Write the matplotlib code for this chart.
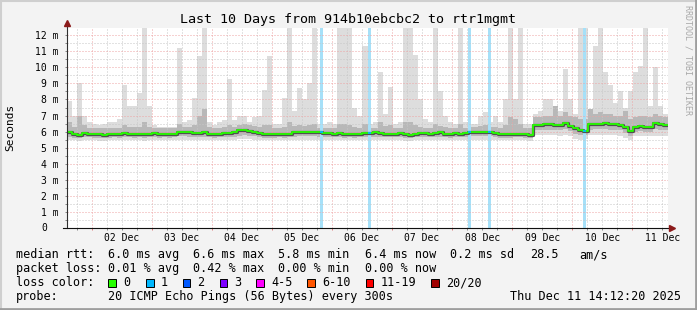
import numpy as np
import pandas as pd
import matplotlib
matplotlib.use("Agg")
import matplotlib.pyplot as plt
import matplotlib.dates as mdates
from matplotlib.ticker import FuncFormatter, MultipleLocator, NullFormatter
from matplotlib.patches import Rectangle
from matplotlib.lines import Line2D

plt.rcParams["font.family"] = "DejaVu Sans Mono"

W, H = 697, 310

# 10 days shown in 2 hour steps
start = "2025-12-01 14:12:20"
n_bins = 120

# median rtt per step (ms)
median_ms = [
    6.00, 5.88, 5.80, 5.92, 5.88, 5.85, 5.85, 5.80, 5.85, 5.88, 5.85, 5.92, 5.88, 5.85, 5.88, 5.85, 5.88, 5.92, 5.85, 5.88,
    5.85, 5.88, 6.00, 6.00, 5.95, 5.92, 5.92, 5.95, 5.88, 5.85, 5.88, 5.92, 5.92, 5.95, 6.08, 6.10, 6.05, 6.00, 5.92, 5.85,
    5.85, 5.85, 5.88, 5.85, 5.88, 5.95, 5.98, 6.00, 6.00, 5.98, 5.95, 5.90, 5.90, 5.88, 5.90, 5.85, 5.88, 5.85, 5.88, 5.90,
    5.92, 5.95, 5.92, 5.88, 5.88, 5.88, 5.90, 5.85, 5.80, 5.88, 5.90, 5.92, 5.88, 5.92, 5.95, 5.88, 5.85, 5.90, 5.88, 5.92,
    5.98, 5.98, 6.00, 6.00, 6.00, 5.90, 5.85, 5.85, 5.85, 5.88, 5.88, 5.85, 5.80, 6.42, 6.42, 6.45, 6.45, 6.42, 6.40, 6.55,
    6.38, 6.20, 6.10, 6.05, 6.45, 6.50, 6.50, 6.52, 6.48, 6.45, 6.42, 6.30, 6.05, 6.30, 6.35, 6.30, 6.30, 6.55, 6.45, 6.42,
]

# smoke: slowest ping per step (ms)
smoke_max = [
    7.9, 7.0, 9.0, 7.0, 6.6, 6.5, 6.4, 6.5, 6.6, 6.6, 6.8, 8.9, 7.6, 7.6, 8.4, 12.45, 7.6, 6.4, 6.3, 6.3,
    6.3, 6.3, 11.2, 6.6, 6.7, 8.1, 10.7, 12.45, 6.6, 6.4, 6.6, 6.7, 9.3, 6.7, 7.0, 7.0, 6.6, 6.9, 7.0, 8.6,
    10.7, 6.5, 6.5, 8.1, 12.45, 7.3, 8.7, 8.0, 9.0, 12.45, 6.5, 6.5, 6.6, 6.5, 12.45, 12.45, 12.45, 7.5, 7.0, 11.3,
    6.5, 6.6, 9.7, 7.1, 8.8, 6.5, 6.6, 12.45, 12.45, 10.8, 8.0, 6.8, 6.6, 12.45, 8.5, 7.0, 6.6, 6.5, 12.45, 6.6,
    6.5, 6.5, 7.0, 7.2, 6.6, 7.0, 6.6, 8.0, 12.45, 8.0, 12.45, 6.5, 6.5, 7.1, 7.3, 8.0, 8.0, 7.5, 7.3, 9.9,
    8.0, 7.1, 12.45, 12.45, 7.0, 11.3, 12.45, 9.7, 8.9, 7.8, 8.5, 7.5, 8.5, 9.7, 10.1, 12.45, 7.6, 10.0, 7.6, 7.1,
]

# smoke: denser middle band, upper edge (ms)
smoke_hi = [
    6.6, 6.3, 7.0, 6.4, 6.25, 6.25, 6.2, 6.2, 6.25, 6.25, 6.25, 6.4, 6.3, 6.3, 6.3, 6.6, 6.3, 6.25, 6.2, 6.25,
    6.2, 6.2, 6.5, 6.3, 6.3, 6.4, 7.0, 7.4, 6.3, 6.25, 6.25, 6.3, 6.4, 6.3, 6.4, 6.45, 6.4, 6.35, 6.3, 6.4,
    6.4, 6.2, 6.25, 6.3, 6.6, 6.35, 6.4, 6.35, 6.4, 6.5, 6.25, 6.2, 6.25, 6.2, 6.5, 6.5, 6.4, 6.3, 6.25, 6.5,
    6.25, 6.25, 6.6, 6.35, 6.4, 6.2, 6.25, 6.6, 6.6, 6.4, 6.3, 6.25, 6.2, 6.5, 6.35, 6.3, 6.2, 6.25, 6.5, 6.25,
    6.3, 6.3, 6.35, 6.4, 6.3, 6.3, 6.25, 6.4, 6.9, 6.8, 6.5, 6.2, 6.2, 6.9, 6.9, 7.0, 7.0, 7.6, 7.0, 7.2,
    7.0, 6.9, 6.8, 6.8, 7.4, 7.1, 7.2, 7.1, 7.1, 7.0, 7.0, 7.3, 6.8, 6.9, 7.0, 7.0, 6.9, 7.1, 7.0, 6.9,
]

# smoke: denser middle band, lower edge (ms)
smoke_lo = [
    5.65, 5.62, 5.6, 5.65, 5.65, 5.62, 5.62, 5.6, 5.62, 5.65, 5.62, 5.65, 5.65, 5.62, 5.65, 5.62, 5.65, 5.65, 5.62, 5.65,
    5.62, 5.65, 5.7, 5.7, 5.68, 5.65, 5.65, 5.68, 5.65, 5.62, 5.65, 5.65, 5.65, 5.68, 5.75, 5.78, 5.75, 5.7, 5.65, 5.62,
    5.62, 5.62, 5.65, 5.62, 5.65, 5.68, 5.7, 5.7, 5.7, 5.7, 5.68, 5.65, 5.65, 5.65, 5.65, 5.62, 5.65, 5.62, 5.65, 5.65,
    5.65, 5.68, 5.65, 5.65, 5.65, 5.65, 5.65, 5.62, 5.6, 5.65, 5.65, 5.65, 5.65, 5.65, 5.68, 5.65, 5.62, 5.65, 5.65, 5.65,
    5.7, 5.7, 5.7, 5.7, 5.7, 5.65, 5.62, 5.62, 5.62, 5.65, 5.65, 5.62, 5.6, 6.1, 6.1, 6.12, 6.12, 6.1, 6.08, 6.15,
    6.05, 5.85, 5.8, 5.8, 6.1, 6.15, 6.15, 6.15, 6.12, 6.1, 6.1, 5.9, 5.75, 6.0, 6.05, 6.0, 6.0, 6.15, 6.1, 6.1,
]

# smoke: fastest ping per step (ms)
smoke_min = [
    5.45, 5.45, 5.42, 5.45, 5.45, 5.45, 5.42, 5.42, 5.45, 5.45, 5.45, 5.45, 5.45, 5.45, 5.45, 5.42, 5.45, 5.45, 5.45, 5.45,
    5.45, 5.45, 5.5, 5.5, 5.48, 5.45, 5.45, 5.48, 5.45, 5.45, 5.45, 5.45, 5.45, 5.48, 5.55, 5.55, 5.52, 5.5, 5.45, 5.45,
    5.45, 5.45, 5.45, 5.45, 5.45, 5.48, 5.5, 5.5, 5.5, 5.5, 5.48, 5.45, 5.45, 5.45, 5.45, 5.45, 5.45, 5.45, 5.45, 5.45,
    5.45, 5.48, 5.45, 5.45, 5.45, 5.45, 5.45, 5.42, 5.42, 5.45, 5.45, 5.45, 5.45, 5.45, 5.48, 5.45, 5.45, 5.45, 5.45, 5.45,
    5.5, 5.5, 5.5, 5.5, 5.5, 5.45, 5.45, 5.45, 5.45, 5.45, 5.45, 5.45, 5.42, 5.8, 5.8, 5.8, 5.8, 5.78, 5.75, 5.8,
    5.75, 5.55, 5.5, 5.55, 5.8, 5.8, 5.8, 5.8, 5.8, 5.78, 5.75, 5.6, 5.5, 5.7, 5.7, 5.7, 5.7, 5.75, 5.7, 5.7,
]

# probes that lost 1 of 20 pings
loss_times = ["2025-12-05 20:00", "2025-12-06 15:05", "2025-12-08 06:55",
              "2025-12-08 14:55", "2025-12-10 04:55"]

loss_labels = ["0", "1", "2", "3", "4-5", "6-10", "11-19", "20/20"]
loss_colors = ["#26ff00", "#00b8ff", "#0059ff", "#7e00ff",
               "#ff00ff", "#ff5500", "#ff0000", "#a10000"]

rtt_stats = ["6.0 ms avg", "6.6 ms max", "5.8 ms min", "6.4 ms now",
             "0.2 ms sd", "28.5", "am/s"]
loss_stats = ["0.01 % avg", "0.42 % max", "0.00 % min", "0.00 % now"]
probe_text = "20 ICMP Echo Pings (56 Bytes) every 300s"
stamp = "Thu Dec 11 14:12:20 2025"
title = "Last 10 Days from 914b10ebcbc2 to rtr1mgmt"


def fx(x):
    return x / W


def fy(y):
    return 1 - y / H


def stepped(v):
    return np.append(v, v[-1])


edges = pd.date_range(start, periods=n_bins + 1, freq="2h")

fig = plt.figure(figsize=(W / 100, H / 100), dpi=100, facecolor="#f3f3f3")
ax = fig.add_axes([fx(67), fy(228), 601 / W, 200 / H])
ax.set_facecolor("white")

# smoke
ax.fill_between(edges, stepped(smoke_min), stepped(smoke_max), step="post",
                color="#dddddd", lw=0, zorder=1)
ax.fill_between(edges, stepped(smoke_lo), stepped(smoke_hi), step="post",
                color="#b8b8b8", lw=0, zorder=1.1)

# loss bars
half = pd.Timedelta(minutes=36)
for t in pd.to_datetime(loss_times):
    ax.axvspan(t - half, t + half, color="#a6e0f8", lw=0, zorder=1.5)

# median line
ax.step(edges, stepped(median_ms), where="post", color="#505050", lw=2.3, zorder=2.6)
ax.step(edges, stepped(median_ms), where="post", color="#26ff00", lw=1.3, zorder=2.7)
for t in pd.to_datetime(loss_times):
    i = edges.searchsorted(t) - 1
    ax.hlines(median_ms[i], t - half, t + half, color="#00b8ff", lw=1.3, zorder=2.8)

ax.set_xlim(edges[0], edges[-1])
ax.set_ylim(0, 12.45)


def day_label(x, pos):
    d = mdates.num2date(x)
    return d.strftime("%d %b") if d.hour == 12 else ""


ax.xaxis.set_major_locator(mdates.HourLocator(byhour=[0]))
ax.xaxis.set_minor_locator(mdates.HourLocator(byhour=[0, 6, 12, 18]))
ax.xaxis.set_major_formatter(NullFormatter())
ax.xaxis.set_minor_formatter(FuncFormatter(day_label))
ax.yaxis.set_major_locator(MultipleLocator(1))
ax.yaxis.set_minor_locator(MultipleLocator(0.5))
ax.yaxis.set_major_formatter(FuncFormatter(lambda v, p: "" if v == 0 else f"{v:.0f} m"))
ax.yaxis.set_minor_formatter(NullFormatter())

ax.set_axisbelow(False)
ax.grid(which="major", color="#eea4a4", lw=0.72, linestyle=(0, (1, 2)))
ax.grid(which="minor", color="#c6c6c6", lw=0.72, linestyle=(0, (1, 2)))

ax.tick_params(axis="both", which="both", labelsize=7, length=1.5, width=0.72, color="#888888")
ax.tick_params(axis="x", which="major", color="#e08080")
ax.tick_params(axis="x", which="minor", pad=2.2)
ax.tick_params(axis="y", which="major", pad=4.3)
ax.text(-20 / 601, 0, "0", transform=ax.get_yaxis_transform(), ha="right",
        va="center", fontsize=7)

for s in ax.spines.values():
    s.set_visible(False)

# axes with arrows
ax.add_line(Line2D([0, 0], [0, 1.02], transform=ax.transAxes, color="#303030",
                   lw=0.8, clip_on=False, zorder=4))
ax.add_line(Line2D([-0.007, 1.003], [0, 0], transform=ax.transAxes, color="#101010",
                   lw=0.8, clip_on=False, zorder=4))
ax.plot([0], [1.025], marker="^", markersize=4, color="#8b1a1a", transform=ax.transAxes,
        clip_on=False, zorder=5)
ax.plot([1.006], [0], marker=">", markersize=4, color="#8b1a1a", transform=ax.transAxes,
        clip_on=False, zorder=5)

# labels
fig.text(fx(348.5), fy(23), title, ha="center", va="baseline", fontsize=9.6)
fig.text(fx(10), fy(127), "Seconds", rotation=90, ha="center", va="center", fontsize=8)
fig.text(fx(688), fy(5), "RRDTOOL / TOBI OETIKER", rotation=270, ha="center", va="top",
         fontsize=6, color="#a8a8a8")

fs = 8.5
fig.text(fx(16), fy(258), "median rtt:", fontsize=fs, va="baseline")
for x, s in zip([108, 193, 278, 365, 450, 530, 579], rtt_stats):
    fig.text(fx(x), fy(258), s, fontsize=fs, va="baseline")
fig.text(fx(16), fy(272), "packet loss:", fontsize=fs, va="baseline")
for x, s in zip([108, 193, 278, 365], loss_stats):
    fig.text(fx(x), fy(272), s, fontsize=fs, va="baseline")
fig.text(fx(16), fy(286), "loss color:", fontsize=fs, va="baseline")
box_x = [108, 146, 182.5, 219.5, 256, 307, 365.5, 431]
for x, lab, c in zip(box_x, loss_labels, loss_colors):
    fig.add_artist(Rectangle((fx(x), fy(286.5)), 7.5 / W, 8 / H, transform=fig.transFigure,
                             facecolor=c, edgecolor="black", lw=0.7))
    fig.text(fx(x + 15), fy(286), lab, fontsize=fs, va="baseline")
fig.text(fx(16), fy(300), "probe:", fontsize=fs, va="baseline")
fig.text(fx(108), fy(300), probe_text, fontsize=fs, va="baseline")
fig.text(fx(681), fy(300), stamp, fontsize=fs, va="baseline", ha="right")

# image frame
fig.add_artist(Line2D([0, 1], [fy(0.5), fy(0.5)], transform=fig.transFigure, color="#cfcfcf", lw=1.5))
fig.add_artist(Line2D([fx(0.5), fx(0.5)], [0, 1], transform=fig.transFigure, color="#cfcfcf", lw=1.5))
fig.add_artist(Line2D([0, 1], [fy(309), fy(309)], transform=fig.transFigure, color="#9e9e9e", lw=2))
fig.add_artist(Line2D([fx(696), fx(696)], [0, 1], transform=fig.transFigure, color="#9e9e9e", lw=2))

fig.savefig("out.png", dpi=100, facecolor=fig.get_facecolor())
